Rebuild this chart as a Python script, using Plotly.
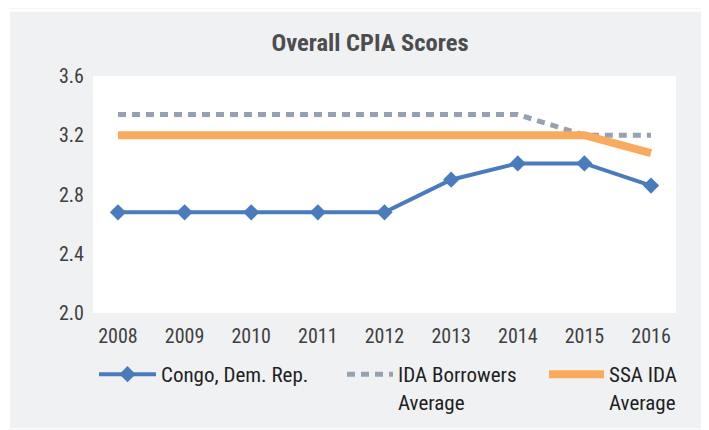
import plotly.graph_objects as go

years = [2008, 2009, 2010, 2011, 2012, 2013, 2014, 2015, 2016]
congo = [2.68, 2.68, 2.68, 2.68, 2.68, 2.9, 3.01, 3.01, 2.86]
ida_borrowers = [3.34, 3.34, 3.34, 3.34, 3.34, 3.34, 3.34, 3.2, 3.2]
ssa_ida = [3.2, 3.2, 3.2, 3.2, 3.2, 3.2, 3.2, 3.2, 3.08]
y_ticks = [2.0, 2.4, 2.8, 3.2, 3.6]

FONT = "Roboto Condensed, Liberation Sans Narrow, sans-serif"
TXT = "#404040"
BG = "#f0f1f3"

# the page body has an 8px margin, so the figure is sized to fill the rest of the window
W, H = 701, 422
L, R, T, B = 85, 33, 67.5, 116.5
pw, ph = W - L - R, H - T - B

def px_x(p):
    return (p - L) / pw

def px_y(p):
    return (H - B - p) / ph

fig = go.Figure()
fig.add_trace(go.Scatter(
    x=years, y=congo, name="Congo, Dem. Rep.", mode="lines+markers",
    line=dict(color="#4a7bbd", width=4),
    marker=dict(symbol="diamond", size=12.5, color="#4a7bbd"),
    legend="legend",
))
fig.add_trace(go.Scatter(
    x=years, y=ida_borrowers, name="IDA Borrowers<br>Average", mode="lines",
    line=dict(color="#97a2b0", width=5, dash="8px,6px"),
    legend="legend2",
))
fig.add_trace(go.Scatter(
    x=years, y=ssa_ida, name="SSA IDA<br>Average", mode="lines",
    line=dict(color="#f9aa5c", width=8),
    legend="legend3",
))

# thin white frame around the grey chart card
for (x0, x1, y0, y1) in [(0, 2, 0, H), (0, W, 0, 3), (0, W, 421, H)]:
    fig.add_shape(type="rect", xref="paper", yref="paper",
                  x0=px_x(x0), x1=px_x(x1), y0=px_y(y1), y1=px_y(y0),
                  fillcolor="white", line=dict(width=0), layer="below")

def leg(x_px, iw):
    return dict(orientation="h", xref="container", yref="container",
                x=x_px / W, xanchor="left", y=1 - 346 / H, yanchor="top",
                bgcolor="rgba(0,0,0,0)", font=dict(family=FONT, size=21, color="#1f1f1f"),
                valign="top", itemwidth=iw)

fig.update_layout(
    width=W, height=H,
    margin=dict(l=L, r=R, t=T, b=B, autoexpand=False),
    paper_bgcolor=BG, plot_bgcolor="white",
    font=dict(family=FONT, size=20, color=TXT),
    title=dict(text="<b>Overall CPIA Scores</b>", x=362 / W, xanchor="center",
               y=1 - 34 / H, yanchor="middle",
               font=dict(family=FONT, size=24.5, color="#4d4d4f")),
    xaxis=dict(range=[2007.625, 2016.375], tickvals=years, ticktext=[str(y) for y in years],
               showgrid=False, zeroline=False, showline=False,
               ticks="outside", ticklen=5, tickcolor="rgba(0,0,0,0)",
               tickfont=dict(size=20, color=TXT), automargin=False),
    yaxis=dict(range=[2.0, 3.6], tickvals=y_ticks, ticktext=["%.1f" % v for v in y_ticks],
               showgrid=False, zeroline=False, showline=False,
               ticks="outside", ticklen=4, tickcolor="rgba(0,0,0,0)",
               tickfont=dict(size=20, color=TXT), automargin=False),
    showlegend=True,
    legend=leg(86, 57),
    legend2=leg(334, 46),
    legend3=leg(536, 55),
)

fig.write_html("out.html")
